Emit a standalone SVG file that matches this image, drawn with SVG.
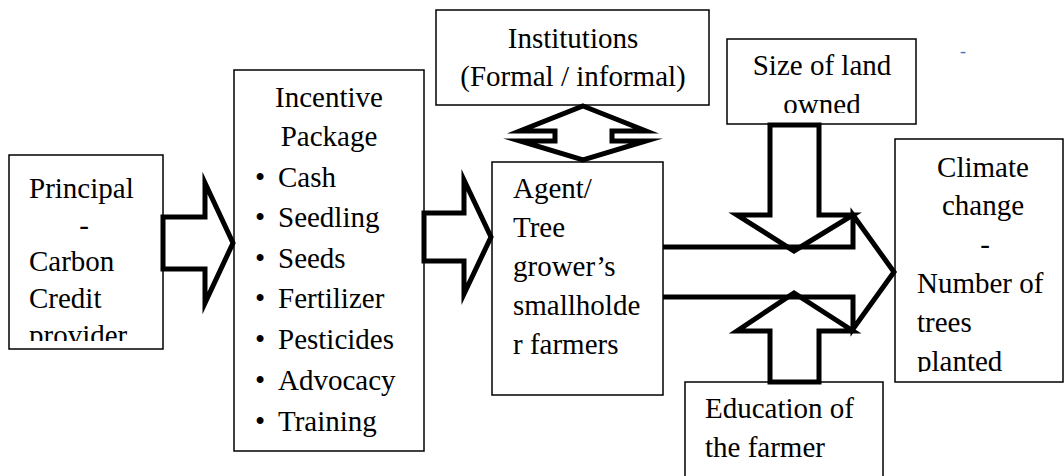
<svg xmlns="http://www.w3.org/2000/svg" width="1064" height="476" viewBox="0 0 1064 476">
<style>
  .box { fill: #ffffff; stroke: #000000; stroke-width: 1.5; }
  .t { font-family: 'Liberation Serif', 'Times New Roman', serif; font-size: 29px; fill: #000000; }
  .c { text-anchor: middle; }
  .note { font-family: 'Liberation Serif', 'Times New Roman', serif; font-size: 18px; fill: #4472C4; text-anchor: middle; }
  .arr { fill: none; stroke: #000000; stroke-width: 5; stroke-linejoin: miter; stroke-miterlimit: 10; }
</style>
<defs>
  <clipPath id="clipPrincipal"><rect x="9" y="155" width="154" height="186"/></clipPath>
  <clipPath id="clipSize"><rect x="727" y="39" width="189" height="74"/></clipPath>
  <clipPath id="clipClimate"><rect x="895" y="139" width="168" height="233"/></clipPath>
</defs>
<rect x="0" y="0" width="1064" height="476" fill="#ffffff"/>

<g id="principal">
  <rect class="box" x="9" y="155" width="154" height="194"/>
  <g clip-path="url(#clipPrincipal)">
    <text class="t" x="29" y="198">Principal</text>
    <text class="t c" x="84" y="235">-</text>
    <text class="t" x="29" y="271">Carbon</text>
    <text class="t" x="29" y="308">Credit</text>
    <text class="t" x="29" y="345">provider</text>
  </g>
</g>

<g id="incentive">
  <rect class="box" x="234" y="70" width="190" height="381"/>
  <text class="t c" x="329" y="107">Incentive</text>
  <text class="t c" x="329" y="146">Package</text>
  <g class="t">
    <text x="255" y="187">•</text><text x="278" y="187">Cash</text>
    <text x="255" y="227">•</text><text x="278" y="227">Seedling</text>
    <text x="255" y="268">•</text><text x="278" y="268">Seeds</text>
    <text x="255" y="308">•</text><text x="278" y="308">Fertilizer</text>
    <text x="255" y="349">•</text><text x="278" y="349">Pesticides</text>
    <text x="255" y="390">•</text><text x="278" y="390">Advocacy</text>
    <text x="255" y="431">•</text><text x="278" y="431">Training</text>
  </g>
</g>

<g id="institutions">
  <rect class="box" x="436" y="10" width="273" height="95"/>
  <text class="t c" x="573" y="48">Institutions</text>
  <text class="t c" x="573" y="86">(Formal / informal)</text>
</g>

<g id="agent">
  <rect class="box" x="492" y="162" width="171" height="233"/>
  <text class="t" x="513" y="198">Agent/</text>
  <text class="t" x="513" y="237">Tree</text>
  <text class="t" x="513" y="276">grower’s</text>
  <text class="t" x="513" y="315">smallholde</text>
  <text class="t" x="513" y="354">r farmers</text>
</g>

<g id="size-of-land">
  <rect class="box" x="727" y="39" width="189" height="85"/>
  <g clip-path="url(#clipSize)">
    <text class="t c" x="822" y="75">Size of land</text>
    <text class="t c" x="822" y="114">owned</text>
  </g>
</g>

<g id="climate">
  <rect class="box" x="895" y="139" width="168" height="243"/>
  <g clip-path="url(#clipClimate)">
    <text class="t c" x="983" y="177">Climate</text>
    <text class="t c" x="983" y="215">change</text>
    <text class="t c" x="985" y="254">-</text>
    <text class="t" x="917" y="293">Number of</text>
    <text class="t" x="917" y="332">trees</text>
    <text class="t" x="917" y="371">planted</text>
  </g>
</g>

<g id="education">
  <rect class="box" x="685" y="382" width="198" height="100"/>
  <text class="t" x="705" y="418">Education of</text>
  <text class="t" x="705" y="457">the farmer</text>
</g>

<g id="note">
  <text class="note" x="963" y="57">-</text>
</g>

<g id="connectors">
  <polygon class="arr" points="163,217 205,217 205,183 233,243 205,303 205,269 163,269"/>
  <polygon class="arr" points="424,213 464,213 464,180 491,237 464,294 464,261 424,261"/>
  <polygon class="arr" points="583,106 646,131 612,131 612,141 646,141 583,160 520,141 555,141 555,131 520,131"/>
  <polygon class="arr" points="770,125 819,125 819,215 853,215 794,251 737,215 770,215"/>
  <polygon class="arr" points="770,382 819,382 819,331 853,331 794,293 737,331 770,331"/>
  <polyline class="arr" points="663,247 853,247 853,215 894,272 853,329 853,297 663,297"/>
</g>
</svg>
